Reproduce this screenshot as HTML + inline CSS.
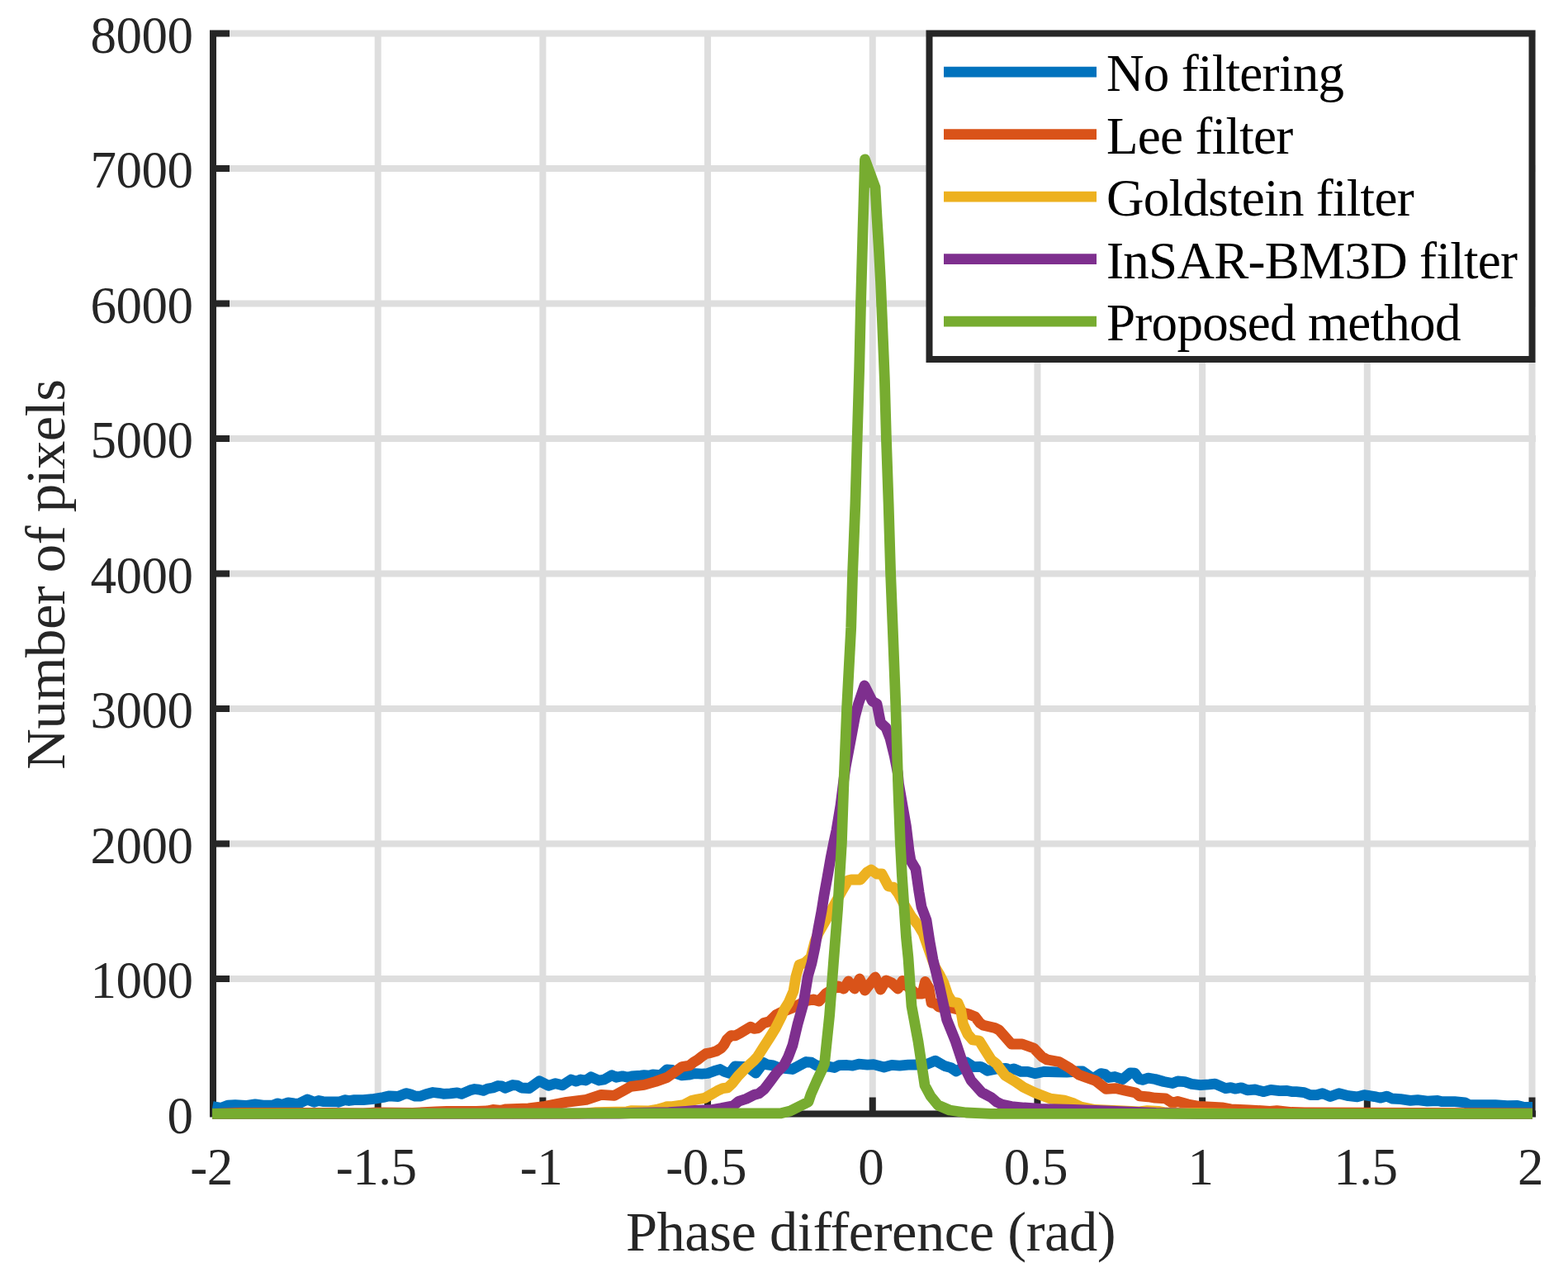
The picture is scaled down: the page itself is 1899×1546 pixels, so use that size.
<!DOCTYPE html>
<html><head><meta charset="utf-8"><title>Phase difference histogram</title>
<style>html,body{margin:0;padding:0;background:#fff;overflow:hidden}svg{display:block}</style>
</head><body>
<svg width="1899" height="1546" viewBox="0 0 1899 1546">
<path d="M258.00 36.50V1348.50M457.69 36.50V1348.50M657.38 36.50V1348.50M857.06 36.50V1348.50M1056.75 36.50V1348.50M1256.44 36.50V1348.50M1456.12 36.50V1348.50M1655.81 36.50V1348.50M1855.50 36.50V1348.50M258.00 1348.50H1860.00M258.00 1185.00H1860.00M258.00 1021.50H1860.00M258.00 858.00H1860.00M258.00 694.50H1860.00M258.00 531.00H1860.00M258.00 367.50H1860.00M258.00 204.00H1860.00M258.00 40.50H1860.00" stroke="#dedede" stroke-width="8" fill="none"/>
<path d="M258.00 36.50V1352.50M254.00 1348.50H1860.00M258.00 1348.50H278.00M258.00 1348.50V1328.50M258.00 1185.00H278.00M457.69 1348.50V1328.50M258.00 1021.50H278.00M657.38 1348.50V1328.50M258.00 858.00H278.00M857.06 1348.50V1328.50M258.00 694.50H278.00M1056.75 1348.50V1328.50M258.00 531.00H278.00M1256.44 1348.50V1328.50M258.00 367.50H278.00M1456.12 1348.50V1328.50M258.00 204.00H278.00M1655.81 1348.50V1328.50M258.00 40.50H278.00M1855.50 1348.50V1328.50" stroke="#262626" stroke-width="8" fill="none" stroke-linecap="butt"/>
<defs><clipPath id="c"><rect x="257" y="0" width="1599" height="1546"/></clipPath></defs>
<g clip-path="url(#c)" fill="none" stroke-width="12.8" stroke-linejoin="round" stroke-linecap="butt">
<path d="M257.4,1339.6 267.4,1341.4 275.8,1338.1 284.8,1337.7 297.4,1338.5 309.0,1336.9 318.5,1338.2 330.0,1338.2 336.4,1335.8 341.6,1337.3 349.0,1334.9 356.4,1335.9 361.6,1336.2 372.2,1331.0 380.6,1334.3 385.9,1332.5 391.1,1333.6 408.0,1333.8 410.1,1334.3 417.5,1331.7 422.7,1332.5 429.0,1331.7 440.0,1331.7 450.5,1330.7 464.2,1328.5 471.6,1326.8 482.1,1327.5 491.6,1323.6 496.9,1324.7 503.2,1327.2 509.5,1327.0 515.8,1324.7 524.3,1322.5 531.6,1323.3 536.9,1324.3 545.3,1323.8 553.7,1322.8 559.0,1324.3 569.5,1319.8 574.8,1318.5 580.1,1319.1 585.3,1320.4 590.6,1318.0 596.9,1317.0 603.2,1314.5 607.5,1314.9 611.7,1317.3 621.1,1313.5 626.4,1314.1 631.6,1317.0 641.0,1317.5 653.2,1308.8 664.2,1314.3 672.7,1311.7 681.1,1313.8 691.6,1307.0 697.9,1309.1 703.2,1307.0 709.5,1308.0 715.8,1303.8 725.3,1308.0 731.6,1307.0 741.1,1301.7 746.4,1304.3 753.8,1302.8 760.1,1304.3 765.3,1302.8 775.9,1302.2 780.1,1301.7 786.4,1302.2 790.6,1300.9 800.1,1301.7 807.5,1294.9 813.8,1295.4 820.5,1300.2 825.8,1301.8 834.2,1301.2 841.6,1299.6 850.0,1300.2 857.0,1299.5 864.8,1296.7 872.0,1294.5 877.4,1297.5 883.7,1299.5 890.0,1291.0 899.5,1291.4 905.0,1291.5 915.3,1299.1 924.8,1286.5 929.0,1288.8 936.4,1289.9 941.6,1292.0 950.0,1293.3 959.6,1294.5 968.0,1290.0 976.4,1285.5 982.7,1286.2 989.0,1289.9 994.3,1290.9 1004.0,1291.3 1010.5,1292.5 1016.0,1289.7 1026.0,1289.5 1032.6,1290.1 1040.0,1288.2 1050.6,1289.1 1058.0,1288.6 1070.6,1292.0 1080.0,1289.4 1089.5,1290.1 1100.0,1289.1 1112.0,1289.0 1122.0,1288.7 1132.7,1284.1 1144.0,1290.5 1151.7,1292.6 1158.0,1296.9 1165.0,1293.0 1170.6,1286.0 1179.0,1291.6 1187.5,1291.3 1190.0,1292.5 1196.0,1296.3 1207.0,1294.0 1218.4,1293.3 1222.6,1295.4 1227.9,1293.8 1236.3,1297.4 1244.8,1297.4 1253.2,1299.7 1263.7,1297.4 1279.5,1297.9 1292.0,1298.0 1305.9,1297.0 1311.1,1297.0 1321.6,1304.3 1325.9,1304.3 1333.2,1299.6 1338.5,1300.6 1342.7,1304.5 1350.1,1303.5 1359.6,1306.6 1369.0,1298.8 1374.3,1299.1 1379.6,1306.3 1383.8,1307.4 1390.5,1305.2 1399.0,1306.5 1409.5,1309.5 1420.0,1311.5 1426.3,1309.0 1434.8,1309.6 1443.2,1312.3 1453.7,1313.6 1464.3,1312.9 1471.6,1312.2 1484.3,1317.6 1490.6,1316.6 1495.8,1318.2 1503.2,1316.8 1510.6,1319.8 1520.1,1319.0 1530.6,1321.7 1539.0,1319.4 1549.6,1320.7 1559.0,1320.4 1565.4,1321.7 1570.0,1321.6 1579.5,1322.6 1586.9,1325.6 1595.3,1325.5 1601.6,1323.7 1611.1,1327.6 1621.6,1323.7 1633.2,1326.7 1643.7,1327.9 1652.1,1325.6 1664.8,1327.6 1672.2,1329.2 1679.5,1327.1 1685.9,1330.0 1696.4,1330.7 1708.1,1332.4 1717.0,1331.6 1728.6,1333.1 1741.2,1332.5 1746.6,1333.7 1761.8,1333.7 1774.3,1334.9 1778.8,1337.3 1811.0,1337.7 1825.3,1338.6 1837.9,1338.5 1845.0,1340.2 1856.0,1340.4" stroke="#0072bd"/>
<path d="M257.0,1348.3 290.0,1347.5 400.0,1347.5 440.0,1348.0 456.0,1347.0 500.0,1347.4 528.0,1346.0 541.0,1345.5 577.0,1345.4 590.0,1344.9 597.0,1343.4 607.0,1344.3 613.0,1342.8 640.0,1341.8 660.0,1339.4 686.0,1334.4 710.0,1331.4 728.0,1325.4 744.0,1326.4 764.0,1315.4 780.0,1313.4 794.0,1309.4 808.0,1304.4 826.0,1291.5 835.0,1290.0 840.0,1286.0 845.0,1283.0 850.0,1279.0 855.0,1275.6 861.0,1274.5 868.0,1272.3 873.6,1268.8 877.0,1264.6 880.4,1258.3 885.4,1253.6 890.5,1253.8 897.2,1250.3 902.2,1247.3 909.0,1243.1 913.2,1245.4 918.2,1244.6 925.0,1238.5 931.7,1236.8 940.0,1228.4 945.0,1226.0 960.0,1220.0 970.0,1215.0 975.0,1212.0 985.0,1210.0 992.0,1212.0 1000.0,1203.0 1008.0,1198.0 1015.0,1194.0 1022.0,1197.0 1027.5,1188.0 1035.0,1197.0 1041.0,1185.0 1047.5,1199.0 1060.0,1183.0 1066.5,1198.0 1073.0,1187.0 1080.0,1190.0 1087.5,1197.0 1093.0,1187.5 1100.0,1195.0 1109.5,1203.0 1117.0,1203.0 1120.5,1188.5 1125.0,1196.0 1128.0,1214.0 1133.0,1215.0 1137.0,1219.0 1152.0,1220.0 1160.0,1222.0 1168.0,1226.5 1173.0,1227.7 1181.0,1231.0 1187.0,1238.7 1191.0,1241.3 1205.0,1244.5 1210.0,1247.0 1218.0,1256.0 1225.0,1264.0 1238.0,1264.0 1252.0,1269.0 1262.0,1279.4 1268.0,1282.9 1282.7,1285.5 1294.3,1292.3 1306.9,1301.3 1316.4,1304.8 1326.9,1308.4 1339.6,1318.4 1351.1,1317.6 1362.7,1320.3 1375.4,1322.9 1380.0,1326.9 1390.5,1327.8 1399.0,1329.2 1411.6,1329.9 1420.0,1335.4 1426.3,1333.5 1439.0,1337.0 1451.6,1339.4 1462.1,1339.8 1480.0,1340.9 1490.6,1342.8 1512.7,1343.8 1538.0,1345.4 1546.4,1344.7 1564.3,1346.5 1580.0,1346.8 1650.0,1347.2 1856.0,1347.8" stroke="#d95319"/>
<path d="M257.0,1348.3 700.0,1348.1 711.0,1347.7 722.0,1346.7 733.0,1346.5 759.0,1345.8 765.0,1344.6 786.0,1344.8 795.0,1343.4 804.0,1341.0 808.0,1339.6 814.0,1339.6 821.0,1338.7 828.0,1337.7 837.4,1332.5 844.0,1331.0 853.5,1329.4 861.0,1325.1 868.6,1320.7 875.3,1317.7 881.2,1316.9 887.1,1311.3 893.8,1302.8 903.9,1292.3 912.3,1284.8 917.4,1279.3 924.1,1268.8 932.5,1255.7 939.2,1244.8 946.0,1231.4 950.0,1222.0 955.0,1214.0 961.0,1200.0 964.0,1182.0 968.0,1168.0 975.0,1165.5 982.0,1159.0 987.0,1140.0 991.0,1130.0 1008.0,1100.0 1020.0,1078.0 1027.0,1066.0 1031.0,1065.0 1042.0,1065.0 1050.0,1056.0 1055.0,1053.0 1062.0,1058.0 1068.0,1058.0 1076.0,1073.0 1082.0,1074.0 1088.0,1082.0 1095.0,1095.0 1104.0,1110.0 1112.0,1120.0 1118.0,1130.0 1125.0,1150.0 1132.0,1170.0 1138.0,1180.0 1143.0,1190.0 1148.0,1205.0 1153.0,1213.0 1160.0,1214.0 1163.5,1222.0 1166.5,1240.0 1172.0,1252.0 1178.0,1259.0 1186.0,1260.0 1191.0,1268.0 1200.5,1283.0 1207.0,1288.0 1212.0,1295.0 1217.4,1302.0 1229.0,1309.0 1239.5,1316.3 1253.0,1322.7 1272.0,1330.0 1289.0,1332.2 1300.6,1335.9 1309.0,1340.0 1326.0,1343.5 1360.0,1345.0 1380.0,1345.9 1389.5,1344.7 1403.0,1345.4 1412.0,1347.0 1450.0,1347.6 1500.0,1348.3 1856.0,1348.3" stroke="#edb120"/>
<path d="M257.0,1348.3 750.0,1348.2 764.5,1347.5 810.0,1346.7 830.8,1345.3 841.2,1344.4 861.0,1343.7 873.6,1341.6 888.0,1338.7 894.7,1333.3 903.9,1330.2 913.2,1325.5 919.0,1323.9 925.8,1318.4 932.5,1309.6 940.9,1298.2 949.3,1289.8 954.4,1280.1 960.0,1265.4 966.0,1240.0 973.0,1215.0 978.5,1181.5 983.0,1166.0 987.0,1147.0 991.0,1124.0 995.0,1103.0 998.0,1084.0 1002.0,1062.0 1006.0,1039.0 1010.0,1019.0 1013.0,1005.0 1018.0,975.0 1022.0,943.0 1024.0,929.0 1030.8,893.0 1035.6,867.2 1039.5,852.4 1047.0,830.0 1056.5,849.0 1062.0,852.0 1066.5,875.0 1073.0,881.0 1078.0,894.0 1083.3,915.4 1087.3,935.8 1088.5,949.0 1093.0,975.0 1097.4,1000.0 1101.0,1030.0 1103.0,1042.0 1109.0,1052.0 1113.0,1080.0 1116.0,1098.0 1122.0,1114.0 1126.0,1140.0 1130.0,1162.0 1138.0,1195.0 1146.5,1234.0 1157.0,1260.0 1166.6,1289.0 1176.0,1308.0 1189.0,1322.5 1200.5,1328.6 1207.0,1334.0 1213.0,1337.0 1225.0,1339.5 1240.0,1341.0 1260.0,1342.5 1300.0,1343.5 1340.0,1345.0 1400.0,1347.5 1450.0,1348.3 1856.0,1348.3" stroke="#7e2f8e"/>
<path d="M257.0,1348.3 946.0,1347.8 957.0,1345.0 967.0,1340.0 979.0,1334.0 982.2,1324.5 989.0,1309.0 994.8,1296.6 998.5,1288.0 1004.6,1229.4 1009.5,1164.7 1014.6,1100.0 1017.0,1060.0 1019.4,1020.0 1021.7,954.0 1025.6,857.0 1030.7,760.0 1032.6,694.0 1035.9,609.5 1038.2,530.0 1040.7,445.7 1042.6,365.0 1044.8,285.5 1047.5,193.0 1060.0,227.0 1062.0,263.0 1064.4,302.0 1066.5,341.0 1068.3,384.0 1070.2,430.0 1071.4,460.0 1073.4,531.0 1076.1,609.5 1078.6,694.0 1081.2,760.0 1084.9,857.0 1087.8,954.0 1090.3,1020.0 1092.4,1060.0 1097.5,1135.0 1100.0,1160.0 1104.0,1218.0 1112.0,1261.0 1120.0,1314.0 1127.0,1327.0 1136.0,1338.0 1150.0,1344.0 1170.0,1347.0 1200.0,1348.3 1856.0,1348.3" stroke="#77ac30"/>
</g>
<g font-family="Liberation Serif, Times New Roman, serif" font-size="63" letter-spacing="-0.5" fill="#262626"><text x="233.5" y="1371.7" text-anchor="end">0</text><text x="233.5" y="1208.2" text-anchor="end">1000</text><text x="233.5" y="1044.7" text-anchor="end">2000</text><text x="233.5" y="881.2" text-anchor="end">3000</text><text x="233.5" y="717.7" text-anchor="end">4000</text><text x="233.5" y="554.2" text-anchor="end">5000</text><text x="233.5" y="390.7" text-anchor="end">6000</text><text x="233.5" y="227.2" text-anchor="end">7000</text><text x="233.5" y="63.7" text-anchor="end">8000</text><text x="256.0" y="1434" text-anchor="middle">-2</text><text x="455.7" y="1434" text-anchor="middle">-1.5</text><text x="655.4" y="1434" text-anchor="middle">-1</text><text x="855.1" y="1434" text-anchor="middle">-0.5</text><text x="1054.8" y="1434" text-anchor="middle">0</text><text x="1254.4" y="1434" text-anchor="middle">0.5</text><text x="1454.1" y="1434" text-anchor="middle">1</text><text x="1653.8" y="1434" text-anchor="middle">1.5</text><text x="1853.5" y="1434" text-anchor="middle">2</text></g>
<text x="1054.5" y="1513.7" text-anchor="middle" font-family="Liberation Serif, serif" font-size="68.5" letter-spacing="-0.47" fill="#262626">Phase difference (rad)</text>
<text transform="translate(77.8 695.6) rotate(-90)" text-anchor="middle" font-family="Liberation Serif, serif" font-size="68.7" letter-spacing="-0.53" fill="#262626">Number of pixels</text>
<rect x="1125.5" y="40.5" width="730.0" height="394.5" fill="#fff" stroke="#262626" stroke-width="8"/>
<path d="M1143 87.2H1328" stroke="#0072bd" stroke-width="12.8"/>
<text x="1340" y="110.1" font-family="Liberation Serif, serif" font-size="63" letter-spacing="-0.7" fill="#000">No filtering</text>
<path d="M1143 162.7H1328" stroke="#d95319" stroke-width="12.8"/>
<text x="1340" y="185.6" font-family="Liberation Serif, serif" font-size="63" letter-spacing="-0.7" fill="#000">Lee filter</text>
<path d="M1143 238.2H1328" stroke="#edb120" stroke-width="12.8"/>
<text x="1340" y="261.1" font-family="Liberation Serif, serif" font-size="63" letter-spacing="-0.7" fill="#000">Goldstein filter</text>
<path d="M1143 313.7H1328" stroke="#7e2f8e" stroke-width="12.8"/>
<text x="1340" y="336.6" font-family="Liberation Serif, serif" font-size="63" letter-spacing="-0.7" fill="#000">InSAR-BM3D filter</text>
<path d="M1143 389.2H1328" stroke="#77ac30" stroke-width="12.8"/>
<text x="1340" y="412.1" font-family="Liberation Serif, serif" font-size="63" letter-spacing="-0.7" fill="#000">Proposed method</text>
</svg>
</body></html>
